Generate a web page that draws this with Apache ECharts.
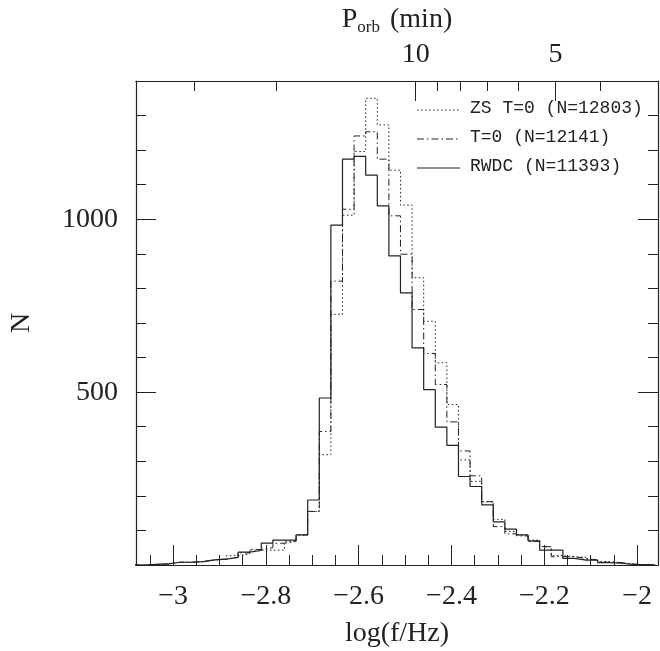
<!DOCTYPE html>
<html>
<head>
<meta charset="utf-8">
<script src="https://cdn.jsdelivr.net/npm/echarts@6/dist/echarts.min.js"></script>
<style>html,body{margin:0;padding:0;background:#fff}#chart{width:660px;height:651px}</style>
</head>
<body>
<div id="chart"></div>
<script>
// histogram bins: start of first bin and bin width in log(f/Hz)
var binStart = -3.085;
var binWidth = 0.025;

var zsCounts = [0, 2, 3, 8, 8, 10, 15, 17, 27, 32, 43, 43, 43, 68, 87, 155,
  319, 725, 1012, 1196, 1350, 1273, 1142, 1041, 831, 705, 585, 464,
  304, 242, 183, 132, 97, 87, 72, 53, 27, 24, 22, 16, 10, 7, 3, 1, 0];
var t0Counts = [0, 2, 3, 8, 8, 10, 15, 17, 22, 35, 45, 50, 63, 68, 87, 155,
  386, 821, 1029, 1241, 1253, 1174, 1010, 899, 739, 612, 522, 414,
  330, 258, 183, 111, 90, 84, 68, 53, 24, 24, 19, 14, 8, 7, 3, 1, 0];
var rwdcCounts = [0, 2, 3, 8, 8, 10, 15, 17, 22, 37, 42, 63, 72, 72, 87, 188,
  483, 983, 1174, 1182, 1128, 1039, 894, 787, 628, 507, 399, 346,
  256, 227, 174, 125, 104, 87, 70, 43, 43, 19, 14, 14, 7, 5, 2, 1, 0];

var xMajor = [-3, -2.8, -2.6, -2.4, -2.2, -2];
var xMinor = [];
for (var v = -3.05; v < -1.96; v += 0.05) xMinor.push(+v.toFixed(2));

var porbMajor = [10, 5];           // minutes
var porbMinor = [30, 20, 9, 8, 7, 6, 4];

function porbToLogF(p) { return Math.log10(2 / (60 * p)); }

function steps(counts) {
  var pts = counts.map(function (c, i) { return [binStart + i * binWidth, c]; });
  pts.push([binStart + counts.length * binWidth, counts[counts.length - 1]]);
  return pts;
}

var chart = echarts.init(document.getElementById('chart'));
var ink = '#222';
var serif = 'Liberation Serif';
var FS = 28;
var XMIN = -3.08, XMAX = -1.955;

function tickAxis(pos, values, len, labels) {
  return {
    type: 'value', position: pos, min: XMIN, max: XMAX,
    axisLine: { show: true, onZero: false, lineStyle: { color: ink, width: 1.2 } },
    splitLine: { show: false },
    axisTick: { show: true, inside: true, length: len, customValues: values, lineStyle: { color: ink } },
    axisLabel: labels || { show: false }
  };
}

var option = {
  animation: false,
  grid: { left: 136, right: 2, top: 81, bottom: 86, containLabel: false, outerBoundsMode: 'none' },
  xAxis: [
    Object.assign(tickAxis('bottom', xMajor, 20, {
      show: true, customValues: xMajor, margin: 18, color: ink,
      fontFamily: serif, fontSize: FS,
      formatter: function (v) { return String(+v.toFixed(1)).replace('-', '\u2212'); }
    }), {
      name: 'log(f/Hz)', nameLocation: 'middle', nameGap: 55,
      nameTextStyle: { fontFamily: serif, fontSize: FS, color: ink }
    }),
    tickAxis('bottom', xMinor, 10),
    Object.assign(tickAxis('top', porbMajor.map(porbToLogF), 20, {
      show: true, customValues: porbMajor.map(porbToLogF), margin: 12, color: ink,
      fontFamily: serif, fontSize: FS,
      formatter: function (v) { return String(Math.round(2 / (60 * Math.pow(10, v)))); }
    }), {
      name: '{p|P}{s|orb}{p| (min)}', nameLocation: 'middle', nameGap: 45,
      nameTextStyle: { rich: {
        p: { fontFamily: serif, fontSize: FS, color: ink },
        s: { fontFamily: serif, fontSize: 17, color: ink, verticalAlign: 'bottom', padding: [15, 3, 0, 0] }
      } }
    }),
    tickAxis('top', porbMinor.map(porbToLogF), 10)
  ],
  yAxis: [{
    type: 'value', position: 'left', min: 0, max: 1400, interval: 500,
    name: 'N', nameLocation: 'middle', nameGap: 100, nameRotate: 90,
    nameTextStyle: { fontFamily: serif, fontSize: FS, color: ink },
    axisLine: { show: true, lineStyle: { color: ink, width: 1.2 } },
    splitLine: { show: false },
    axisTick: { inside: true, length: 20, lineStyle: { color: ink } },
    minorTick: { show: true, splitNumber: 5, length: 10, lineStyle: { color: ink } },
    axisLabel: { margin: 18, color: ink, fontFamily: serif, fontSize: FS,
      formatter: function (v) { return (v === 0 || v === 1400) ? '' : v; } }
  }, {
    type: 'value', position: 'right', min: 0, max: 1400, interval: 500,
    axisLine: { show: true, lineStyle: { color: ink, width: 1.2 } },
    splitLine: { show: false },
    axisTick: { inside: true, length: 20, lineStyle: { color: ink } },
    minorTick: { show: true, splitNumber: 5, length: 10, lineStyle: { color: ink } },
    axisLabel: { show: false }
  }],
  series: [
    { name: 'ZS T=0 (N=12803)', type: 'line', step: 'end', symbol: 'none',
      data: steps(zsCounts), lineStyle: { color: ink, width: 1, type: [1.5, 2.5] } },
    { name: 'T=0 (N=12141)', type: 'line', step: 'end', symbol: 'none',
      data: steps(t0Counts), lineStyle: { color: ink, width: 1, type: [7, 3, 1.5, 3] } },
    { name: 'RWDC (N=11393)', type: 'line', step: 'end', symbol: 'none',
      data: steps(rwdcCounts), lineStyle: { color: ink, width: 1.2 } }
  ],
  graphic: []
};

// legend drawn as line samples + labels
var legendDash = [[1.5, 2.5], [7, 3, 1.5, 3], null];
option.series.forEach(function (s, i) {
  var y = 110 + i * 29;
  option.graphic.push({ type: 'line', shape: { x1: 417, y1: y, x2: 460, y2: y },
    style: { stroke: ink, lineWidth: 1, lineDash: legendDash[i] } });
  option.graphic.push({ type: 'text', left: 470, top: y - 11,
    style: { text: s.name, fill: ink, font: '18px "Liberation Mono"' } });
});

chart.setOption(option);
</script>
</body>
</html>
